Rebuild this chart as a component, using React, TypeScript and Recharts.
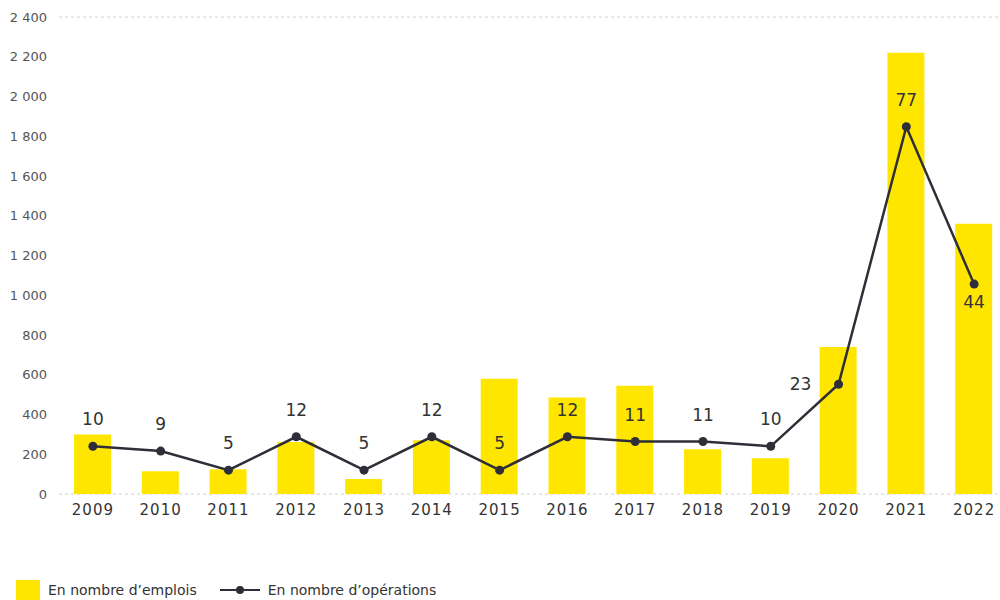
import React from 'react';
import { ComposedChart, Bar, Line, XAxis, YAxis, CartesianGrid } from 'recharts';

const years = ['2009', '2010', '2011', '2012', '2013', '2014', '2015', '2016', '2017', '2018', '2019', '2020', '2021', '2022'];
const emplois = [300, 115, 125, 262, 75, 270, 580, 485, 545, 225, 180, 740, 2220, 1360];
const operations = [10, 9, 5, 12, 5, 12, 5, 12, 11, 11, 10, 23, 77, 44];
const yTicks = [0, 200, 400, 600, 800, 1000, 1200, 1400, 1600, 1800, 2000, 2200, 2400];

const YELLOW = '#FFE600';
const DARK = '#2E2E38';
const FONT = '"DejaVu Sans", Verdana, sans-serif';

const data = years.map((year, i) => ({ year, emplois: emplois[i], operations: operations[i] }));

const fmt = (v: number) => String(v).replace(/\B(?=(\d{3})+(?!\d))/g, ' ');

const OpLabel = (props: any) => {
  const { x, y, value, index } = props;
  let tx = x;
  let ty = y - 27;
  if (index === 13) ty = y + 18;
  if (index === 11) {
    tx = x - 38;
    ty = y;
  }
  return (
    <text x={tx} y={ty} textAnchor="middle" dominantBaseline="central" fill="#333" fontSize={17} fontFamily={FONT}>
      {value}
    </text>
  );
};

const App: React.FC = () => {
  return (
    <div style={{ position: 'absolute', left: 0, top: 0, width: 1000, height: 600, overflow: 'hidden', background: '#fff' }}>
      <ComposedChart width={1010} height={600} data={data} margin={{ top: 17, right: 2, left: 0, bottom: 66 }}>
        <CartesianGrid vertical={false} stroke="#d0d0d0" strokeDasharray="3 3" />
        <XAxis
          dataKey="year"
          axisLine={false}
          tickLine={false}
          tickMargin={4}
          height={40}
          tick={{ fill: '#333', fontSize: 15, fontFamily: FONT, letterSpacing: 1 }}
        />
        <YAxis
          yAxisId="left"
          width={59}
          domain={[0, 2400]}
          ticks={yTicks}
          interval={0}
          axisLine={false}
          tickLine={false}
          tickMargin={6}
          tickFormatter={fmt}
          tick={{ fill: '#555', fontSize: 13, fontFamily: FONT }}
        />
        <YAxis yAxisId="right" orientation="right" hide domain={[0, 100]} />
        <Bar yAxisId="left" dataKey="emplois" fill={YELLOW} barSize={37} isAnimationActive={false} />
        <Line
          yAxisId="right"
          dataKey="operations"
          stroke={DARK}
          strokeWidth={2.5}
          dot={{ r: 4.5, fill: DARK, stroke: DARK, strokeWidth: 0 }}
          activeDot={false}
          label={<OpLabel />}
          isAnimationActive={false}
        />
      </ComposedChart>
      <div style={{ position: 'absolute', left: 16, top: 580, display: 'flex', alignItems: 'center', fontFamily: FONT, fontSize: 14, color: '#333' }}>
        <span style={{ display: 'inline-block', width: 24, height: 20, background: YELLOW, marginRight: 8 }} />
        <span>En nombre d’emplois</span>
        <svg width={40} height={20} style={{ marginLeft: 23, marginRight: 8 }}>
          <line x1={0} y1={10} x2={40} y2={10} stroke={DARK} strokeWidth={2} />
          <circle cx={20} cy={10} r={4} fill={DARK} />
        </svg>
        <span>En nombre d’opérations</span>
      </div>
    </div>
  );
};

export default App;
